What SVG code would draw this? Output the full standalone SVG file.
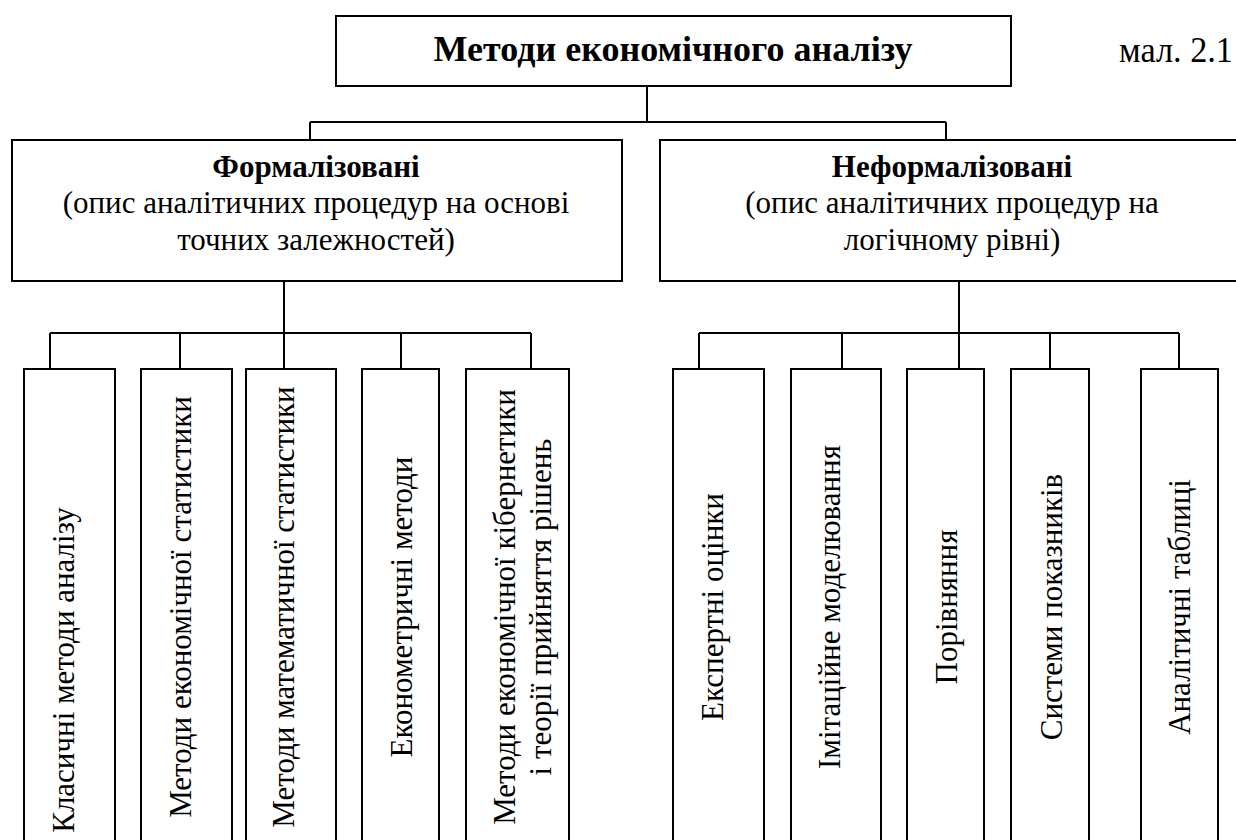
<svg xmlns="http://www.w3.org/2000/svg" width="1236" height="840" viewBox="0 0 1236 840">
<style>
  .box { fill: #ffffff; stroke: #000000; stroke-width: 2; }
  .con { fill: none; stroke: #000000; stroke-width: 2; }
  .t { font-family: "Liberation Serif", "Times New Roman", serif; font-size: 31px; fill: #000000; }
  .b { font-weight: bold; }
  .m { text-anchor: middle; }
</style>
<rect x="0" y="0" width="1236" height="840" fill="#ffffff"/>
<g id="connectors">
  <path class="con" d="M647 86 V122 M310 122 H946 M310 122 V140 M946 122 V140"/>
  <path class="con" d="M284 281 V333 M50 333 H531 M50 333 V369 M180 333 V369 M284 333 V369 M401 333 V369 M531 333 V369"/>
  <path class="con" d="M959 281 V333 M699 333 H1179 M699 333 V369 M842 333 V369 M959 333 V369 M1050 333 V369 M1179 333 V369"/>
</g>
<g id="root">
  <rect class="box" x="336" y="16" width="675" height="70"/>
  <text class="t b m" x="673" y="61" style="font-size:36px">Методи економічного аналізу</text>
</g>
<text id="caption" class="t" x="1119" y="62" style="font-size:36px" textLength="114" lengthAdjust="spacingAndGlyphs">мал. 2.1</text>
<g id="formal">
  <rect class="box" x="12" y="140" width="610" height="141"/>
  <text class="t b m" x="316" y="177">Формалізовані</text>
  <text class="t m" x="316" y="213">(опис аналітичних процедур на основі</text>
  <text class="t m" x="316" y="250">точних залежностей)</text>
</g>
<g id="informal">
  <rect class="box" x="660" y="140" width="584" height="141"/>
  <text class="t b m" x="952" y="177">Неформалізовані</text>
  <text class="t m" x="952" y="213">(опис аналітичних процедур на</text>
  <text class="t m" x="952" y="250">логічному рівні)</text>
</g>
<g id="f1">
  <rect class="box" x="24" y="369" width="91" height="481"/>
  <text class="t m" transform="translate(74 670) rotate(-90)">Класичні методи аналізу</text>
</g>
<g id="f2">
  <rect class="box" x="141" y="369" width="91" height="481"/>
  <text class="t m" transform="translate(190.5 607) rotate(-90)">Методи економічної статистики</text>
</g>
<g id="f3">
  <rect class="box" x="246" y="369" width="90" height="481"/>
  <text class="t m" transform="translate(294 607) rotate(-90)">Методи математичної статистики</text>
</g>
<g id="f4">
  <rect class="box" x="362" y="369" width="77" height="481"/>
  <text class="t m" transform="translate(411.5 607) rotate(-90)">Економетричні методи</text>
</g>
<g id="f5">
  <rect class="box" x="466" y="369" width="103" height="481"/>
  <text class="t m" transform="translate(515 607) rotate(-90)">Методи економічної кібернетики</text>
  <text class="t m" transform="translate(551 607) rotate(-90)">і теорії прийняття рішень</text>
</g>
<g id="n1">
  <rect class="box" x="673" y="369" width="91" height="481"/>
  <text class="t m" transform="translate(723 607) rotate(-90)">Експертні оцінки</text>
</g>
<g id="n2">
  <rect class="box" x="791" y="369" width="90" height="481"/>
  <text class="t m" transform="translate(840 607) rotate(-90)">Імітаційне моделювання</text>
</g>
<g id="n3">
  <rect class="box" x="907" y="369" width="77" height="481"/>
  <text class="t m" transform="translate(956.5 607) rotate(-90)">Порівняння</text>
</g>
<g id="n4">
  <rect class="box" x="1011" y="369" width="78" height="481"/>
  <text class="t m" transform="translate(1061.5 607) rotate(-90)">Системи показників</text>
</g>
<g id="n5">
  <rect class="box" x="1141" y="369" width="77" height="481"/>
  <text class="t m" transform="translate(1190 607) rotate(-90)">Аналітичні таблиці</text>
</g>
</svg>
